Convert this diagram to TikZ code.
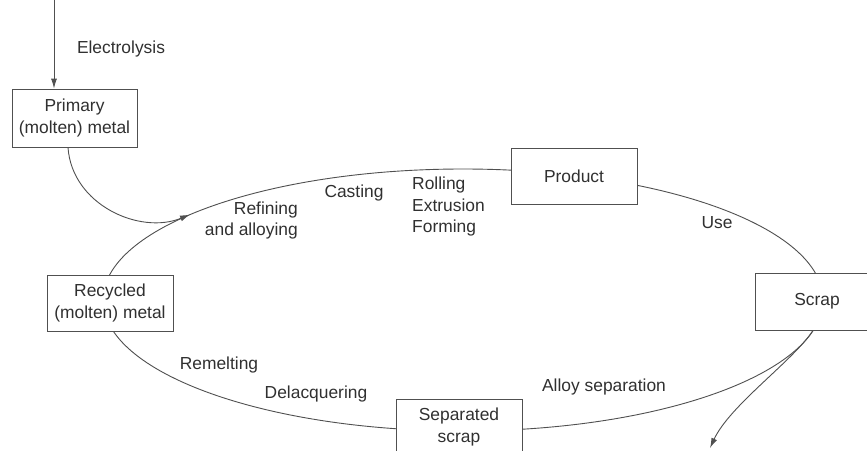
\documentclass[tikz,border=0pt]{standalone}
\usepackage{fontspec}
\setmainfont{Liberation Sans}
\usetikzlibrary{arrows.meta,calc}
\definecolor{lc}{HTML}{505050}
\definecolor{tc}{HTML}{303030}
\begin{document}
\begin{tikzpicture}[x=1pt,y=-1pt,
  every node/.style={font=\fontsize{17.4}{21.5}\selectfont, text=tc},
  box/.style={draw=lc, fill=white, line width=0.9pt, align=center, inner sep=0pt},
  lbl/.style={inner sep=0pt},
  conn/.style={draw=lc, line width=0.9pt},
  tip/.style={-{Latex[length=10pt,width=6pt]}}]
\useasboundingbox (0,0) rectangle (867,450);
\clip (0,0) rectangle (867,450);
% cycle
\draw[conn] (463,300) ellipse [x radius=360pt, y radius=131pt];
% boxes
\node[box, minimum width=125pt, minimum height=58pt] (prim) at (74.5,118) {Primary\\(molten) metal};
\node[box, minimum width=126pt, minimum height=56pt] (prod) at (574,176) {Product};
\node[box, minimum width=126pt, minimum height=56pt] (recy) at (110,303) {Recycled\\(molten) metal};
\node[box, minimum width=124pt, minimum height=57pt] (scrap) at (817,301.5) {Scrap};
\node[box, minimum width=126pt, minimum height=56pt] (sep) at (459,427) {Separated\\scrap};
% electrolysis input
\coordinate (src) at (54,0);
\draw[conn,tip] (src) -- (src |- prim.north);
\node[lbl] (elec) at (121,49) {Electrolysis};
% primary metal into the cycle
\coordinate (merge) at (190,214.6);
\draw[conn,tip] ($(prim.south)+(-6.5,0)$) .. controls (72,205) and (140,235) .. (merge);
% scrap leaving the cycle
\coordinate (out) at (710,448);
\draw[conn,tip] ($(scrap.south)+(-4,0)$) .. controls (793,361) and (730,405) .. (out);
% labels
\node[lbl, align=right, anchor=east] (refin) at (298,220.5) {Refining\\and alloying};
\node[lbl] (cast) at (354,193) {Casting};
\node[lbl, align=left, anchor=west] (roll) at (412,206.5) {Rolling\\Extrusion\\Forming};
\node[lbl] (use) at (717,223) {Use};
\node[lbl] (remelt) at (219,365) {Remelting};
\node[lbl] (delac) at (316,394) {Delacquering};
\node[lbl] (alloy) at (604,387) {Alloy separation};
\end{tikzpicture}
\end{document}
